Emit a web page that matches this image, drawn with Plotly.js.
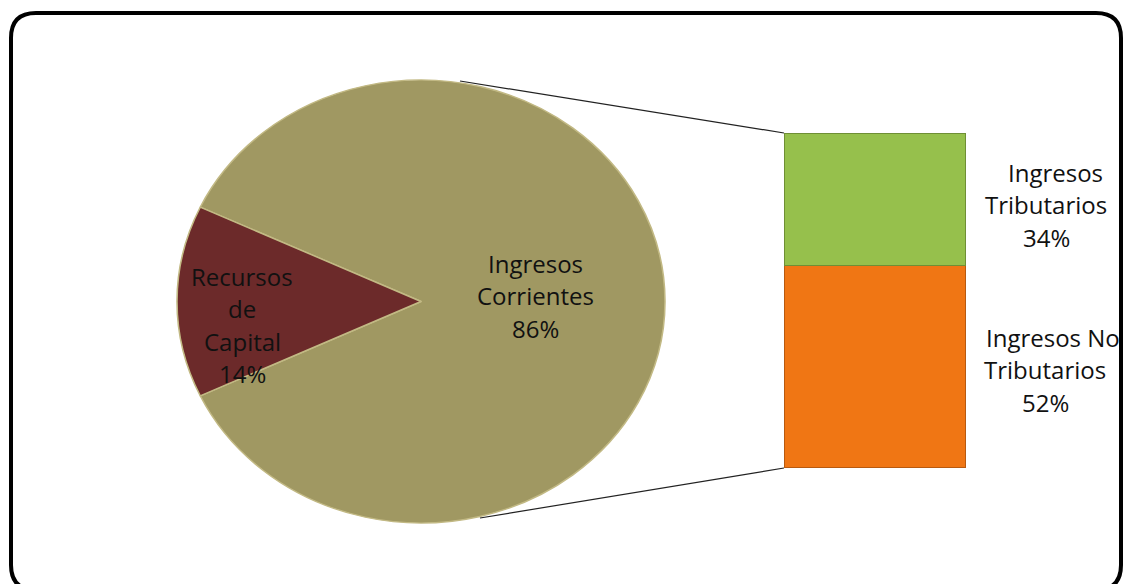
<!DOCTYPE html>
<html>
<head>
<meta charset="utf-8">
<script src="https://cdn.plot.ly/plotly-3.0.1.min.js"></script>
<style>html,body{margin:0;padding:0;background:#fff;}#chart{width:1123px;height:584px;}</style>
</head>
<body>
<div id="chart"></div>
<script>
// ---- data ----
const pieLabels = ["Ingresos<br>Corrientes", "Recursos<br>de<br>Capital"];
const pieValues = [86, 14];
const barLabels = ["Ingresos<br>Tributarios", "Ingresos No<br>Tributarios"];
const barValues = [34, 52];

// ---- styles ----
const W = 1123, H = 584;
const px = v => v / W;
const py = v => 1 - v / H;
const pieColors = ["#a09862", "#6c2a2a"];
const barColors = ["#96c04c", "#f07614"];
const barLines = ["#6f8f35", "#b85a10"];
const FONT = "'Open Sans', 'Noto Sans', sans-serif";
const FS = 24, LS = 32.5;

// pie geometry (ellipse in reference: rx 244, ry 221.5)
const PCX = 421, PCY = 301.5, PR = 233;
const SX = 244 / PR, SY = 221.5 / PR;

const pieTrace = {
  type: "pie",
  labels: pieLabels,
  values: pieValues,
  sort: false,
  direction: "clockwise",
  rotation: -64.8,
  textinfo: "none",
  hoverinfo: "label+percent",
  marker: { colors: pieColors, line: { color: "#c2b984", width: 1.5 } },
  domain: { x: [px(PCX - PR), px(PCX + PR)], y: [py(PCY + PR), py(PCY - PR)] },
  showlegend: false
};

// stacked bar: bottom = No Tributarios, top = Tributarios
const barTraces = [1, 0].map(i => ({
  type: "bar",
  x: [0],
  y: [barValues[i]],
  width: 1,
  name: barLabels[i],
  marker: { color: barColors[i], line: { color: barLines[i], width: 1.5 } },
  hoverinfo: "name+y",
  showlegend: false
}));

const total = barValues.reduce((a, b) => a + b, 0);

// label blocks: center (pixel) of each text block; first-line horizontal shift
const blocks = [
  { cx: 535, cy: 294.5, shift: 0, text: pieLabels[0] + "<br>" + pieValues[0] + "%" },
  { cx: 242, cy: 324, shift: 0, text: pieLabels[1] + "<br>" + pieValues[1] + "%" },
  { cx: 1046, cy: 203.5, shift: 9, text: barLabels[0] + "<br>" + barValues[0] + "%" },
  { cx: 1045, cy: 368.5, shift: 8, text: barLabels[1] + "<br>" + barValues[1] + "%" }
];
const annotations = [];
blocks.forEach(b => {
  const lines = b.text.split("<br>");
  lines.forEach((ln, i) => {
    const yy = b.cy + (i - (lines.length - 1) / 2) * LS;
    annotations.push({
      xref: "paper", yref: "paper", x: px(b.cx + (i === 0 ? b.shift : 0)), y: py(yy + 1),
      text: ln, showarrow: false, xanchor: "center", yanchor: "middle",
      font: { family: FONT, size: FS, color: "#111" }
    });
  });
});

// rounded frame
const x0 = px(11), x1 = px(1121), yt = py(13), yb = py(590);
const rx = 25 / W, ry = 25 / H;
const framePath = `M ${x0 + rx},${yt} L ${x1 - rx},${yt} Q ${x1},${yt} ${x1},${yt - ry} ` +
  `L ${x1},${yb + ry} Q ${x1},${yb} ${x1 - rx},${yb} L ${x0 + rx},${yb} Q ${x0},${yb} ${x0},${yb + ry} ` +
  `L ${x0},${yt - ry} Q ${x0},${yt} ${x0 + rx},${yt} Z`;

const shapes = [
  { type: "path", xref: "paper", yref: "paper", path: framePath, line: { color: "#000", width: 4 } },
  { type: "line", xref: "paper", yref: "paper", x0: px(460), y0: py(81), x1: px(784), y1: py(133), line: { color: "#222", width: 1.2 } },
  { type: "line", xref: "paper", yref: "paper", x0: px(480), y0: py(518), x1: px(784), y1: py(468), line: { color: "#222", width: 1.2 } }
];

const layout = {
  width: W, height: H,
  margin: { l: 0, r: 0, t: 0, b: 0 },
  paper_bgcolor: "#fff", plot_bgcolor: "rgba(0,0,0,0)",
  barmode: "stack",
  bargap: 0,
  xaxis: { domain: [px(784), px(966)], range: [-0.5, 0.5], visible: false, fixedrange: true },
  yaxis: { domain: [py(468), py(133)], range: [0, total], visible: false, fixedrange: true },
  annotations: annotations,
  shapes: shapes,
  font: { family: FONT }
};

Plotly.newPlot("chart", [pieTrace].concat(barTraces), layout, { displayModeBar: false, staticPlot: true })
  .then(gd => {
    // the reference pie is drawn slightly elliptical: stretch the pie layer about its centre
    const pl = gd.querySelector(".pielayer");
    if (pl) pl.setAttribute("transform",
      `translate(${PCX},${PCY}) scale(${SX},${SY}) translate(${-PCX},${-PCY})`);
  });
</script>
</body>
</html>
